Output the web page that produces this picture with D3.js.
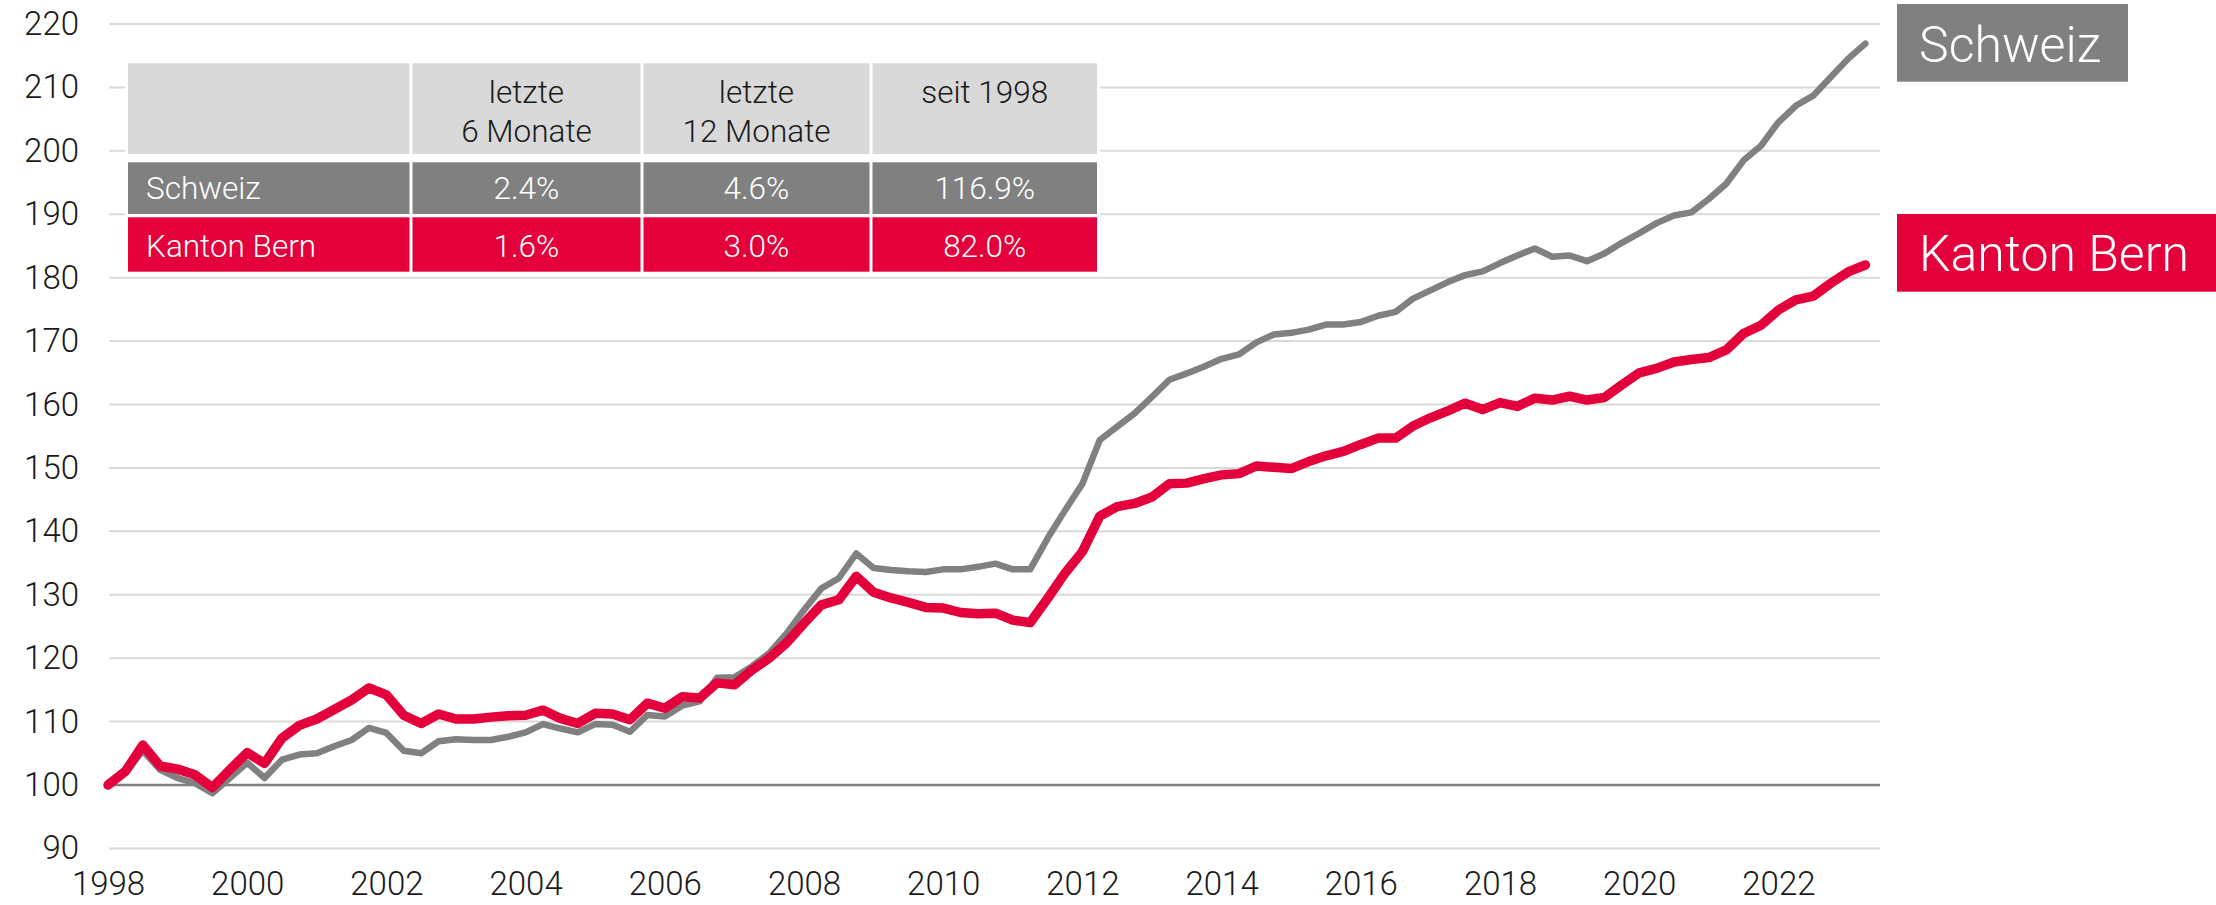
<!DOCTYPE html>
<html>
<head>
<meta charset="utf-8">
<script src="https://cdn.jsdelivr.net/npm/d3@7"></script>
<style>
html, body { margin: 0; padding: 0; background: #fff; }
svg { display: block; font-family: Roboto, "Noto Sans", sans-serif; font-weight: 300; }
</style>
</head>
<body>
<svg id="chart" width="2216" height="905"></svg>
<script>
// ---- data ----
const startYear = 1998;           // first quarter of the series
const seriesNames = ["Schweiz", "Kanton Bern"];
const schweiz = [100.0,101.9,105.4,102.4,101.1,100.3,98.7,101.1,103.5,101.1,104.0,104.8,105.0,106.1,107.1,109.0,
  108.2,105.4,105.0,106.9,107.2,107.1,107.1,107.6,108.3,109.6,108.9,108.3,109.6,109.5,108.4,111.05,
  110.8,112.5,113.2,116.9,117.0,118.7,120.8,123.9,127.6,131.0,132.6,136.5,134.2,133.9,133.7,133.6,
  134.0,134.0,134.4,134.9,134.0,134.0,138.9,143.3,147.5,154.4,156.5,158.6,161.2,163.9,164.9,166.0,
  167.2,167.9,169.8,171.05,171.3,171.8,172.6,172.6,173.0,174.0,174.6,176.7,178.0,179.3,180.4,181.0,
  182.3,183.5,184.6,183.3,183.5,182.6,183.8,185.5,187.0,188.6,189.8,190.3,192.4,194.8,198.5,200.8,
  204.5,207.1,208.7,211.6,214.5,216.9];
const bern = [100.0,102.15,106.3,103.0,102.5,101.6,99.6,102.4,105.1,103.4,107.4,109.4,110.4,111.9,113.4,115.3,
  114.2,111.0,109.7,111.2,110.4,110.4,110.7,110.9,111.0,111.8,110.5,109.7,111.3,111.2,110.3,112.9,
  112.1,113.9,113.7,116.1,115.8,118.1,120.0,122.4,125.5,128.4,129.2,132.9,130.4,129.5,128.8,128.0,
  127.9,127.2,127.0,127.1,126.0,125.6,129.4,133.4,136.8,142.4,143.9,144.4,145.4,147.5,147.6,148.3,
  148.9,149.1,150.3,150.1,149.9,151.0,151.9,152.6,153.7,154.7,154.7,156.6,157.9,159.0,160.2,159.2,
  160.3,159.7,161.0,160.7,161.3,160.7,161.1,163.1,165.0,165.7,166.7,167.1,167.4,168.6,171.2,172.5,
  174.9,176.5,177.1,179.1,180.9,182.0];
const yTicks = [90,100,110,120,130,140,150,160,170,180,190,200,210,220];
const xTicks = [1998,2000,2002,2004,2006,2008,2010,2012,2014,2016,2018,2020,2022];
const tableHeader = [[""], ["letzte","6 Monate"], ["letzte","12 Monate"], ["seit 1998"]];
const tableSchweiz = ["Schweiz", "2.4%", "4.6%", "116.9%"];
const tableBern = ["Kanton Bern", "1.6%", "3.0%", "82.0%"];

// ---- styles ----
const RED = "#e4003b", GRAY = "#808080", LIGHT = "#d9d9d9", TXT = "#1a1a1a";

const svg = d3.select("#chart");
const gridLeft = 109, gridRight = 1880;

const x = d3.scaleLinear().domain([1998, 2023.25]).range([108, 1865.4]);
const y = d3.scaleLinear().domain([90, 220]).range([848.4, 24]);

const tOf = i => startYear + i / 4;

// grid lines
svg.append("g").selectAll("line").data(yTicks).join("line")
  .attr("x1", gridLeft).attr("x2", gridRight)
  .attr("y1", d => y(d)).attr("y2", d => y(d))
  .attr("stroke", d => d === 100 ? GRAY : LIGHT)
  .attr("stroke-width", d => d === 100 ? 2.5 : 2);

// y axis labels
const yAxis = d3.axisLeft(y).tickValues(yTicks).tickSize(0).tickPadding(0).tickFormat(d3.format("d"));
const gy = svg.append("g").attr("transform", "translate(79,0)").call(yAxis);
gy.select(".domain").remove();
gy.selectAll("text").attr("font-size", 33).attr("fill", TXT)
  .attr("font-family", "Roboto, sans-serif").attr("font-weight", 300);

// x axis labels
const xAxis = d3.axisBottom(x).tickValues(xTicks).tickSize(0).tickPadding(0).tickFormat(d3.format("d"));
const gx = svg.append("g").attr("transform", "translate(0,872)").call(xAxis);
gx.select(".domain").remove();
gx.selectAll("text").attr("font-size", 33).attr("fill", TXT).attr("dy", "0.71em")
  .attr("font-family", "Roboto, sans-serif").attr("font-weight", 300);

// lines
const line = d3.line().x((d, i) => x(tOf(i))).y(d => y(d));
svg.append("path").datum(schweiz).attr("d", line)
  .attr("fill", "none").attr("stroke", GRAY).attr("stroke-width", 6.5)
  .attr("stroke-linejoin", "round").attr("stroke-linecap", "round");
svg.append("path").datum(bern).attr("d", line)
  .attr("fill", "none").attr("stroke", RED).attr("stroke-width", 9.5)
  .attr("stroke-linejoin", "round").attr("stroke-linecap", "round");

// table
const colX = [128, 411, 642, 871, 1097];
const rowsY = [[63.3, 154], [162.3, 214], [217.3, 271.7]];
const gap = 3;
const tg = svg.append("g");
tg.append("rect").attr("x", 125).attr("y", 60).attr("width", colX[4] - 125 + 3).attr("height", 275 - 60).attr("fill", "#fff");
const rowDefs = [
  {fill: LIGHT, color: TXT, cells: tableHeader},
  {fill: GRAY, color: "#fff", cells: tableSchweiz.map(s => [s])},
  {fill: RED, color: "#fff", cells: tableBern.map(s => [s])}
];
rowDefs.forEach((r, ri) => {
  const [y0, y1] = rowsY[ri];
  r.cells.forEach((lines, ci) => {
    const x0 = colX[ci] + (ci > 0 ? gap / 2 : 0);
    const x1 = colX[ci + 1] - (ci < 3 ? gap / 2 : 0);
    tg.append("rect").attr("x", x0).attr("y", y0).attr("width", x1 - x0).attr("height", y1 - y0).attr("fill", r.fill);
    const t = tg.append("text").attr("font-size", 31.5).attr("fill", r.color)
      .attr("font-family", "Roboto, sans-serif").attr("font-weight", 300);
    if (ri === 0) {
      t.attr("text-anchor", "middle");
      lines.forEach((ln, li) => {
        t.append("tspan").attr("x", (x0 + x1) / 2).attr("y", 103 + li * 39).text(ln);
      });
    } else {
      const by = ri === 1 ? 199 : 256.5;
      if (ci === 0) t.attr("x", 146).attr("y", by).text(lines[0]);
      else t.attr("x", (x0 + x1) / 2).attr("y", by).attr("text-anchor", "middle").text(lines[0]);
    }
  });
});

// legend boxes at right
const legend = [
  {name: seriesNames[0], fill: GRAY, y0: 4, y1: 81.7, x1: 2128, base: 61.7},
  {name: seriesNames[1], fill: RED, y0: 214, y1: 291.7, x1: 2216, base: 270.7}
];
legend.forEach(l => {
  svg.append("rect").attr("x", 1897).attr("y", l.y0).attr("width", l.x1 - 1897).attr("height", l.y1 - l.y0).attr("fill", l.fill);
  svg.append("text").attr("x", 1919).attr("y", l.base).attr("font-size", 50).attr("fill", "#fff")
    .attr("font-family", "Roboto, sans-serif").attr("font-weight", 300).text(l.name);
});
</script>
</body>
</html>
